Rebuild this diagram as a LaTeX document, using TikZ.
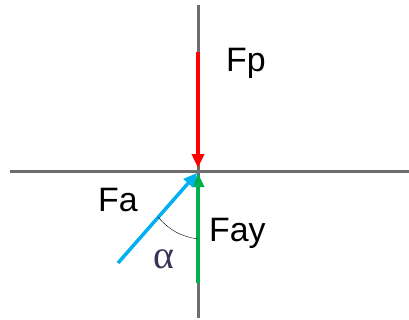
\documentclass[tikz,border=0pt]{standalone}
\usepackage{fontspec}
\setmainfont{Liberation Sans}
\newfontfamily\greekfont{Liberation Serif}
\usetikzlibrary{
    arrows.meta,
    positioning
}
\definecolor{fpred}{RGB}{255,0,0}
\definecolor{faygreen}{RGB}{0,176,80}
\definecolor{fablue}{RGB}{0,176,240}
\definecolor{axisgray}{RGB}{110,110,110}
\definecolor{alphanavy}{RGB}{60,50,90}
\tikzset{
  axis/.style = {
      draw=axisgray,
      line width=3bp
  },
  force/.style = {
      line width=3.5bp,
      -{Triangle[length=14bp,width=12bp]}
  },
  forcelabel/.style = {
      font=\fontsize{34}{34}\selectfont,
      inner sep=0pt,
      anchor=base west
  },
  anglemark/.style = {
      draw,
      thin
  }
}

\begin{document}
\begin{tikzpicture}[x=1bp, y=-1bp]
        \useasboundingbox (0,0) rectangle (409,320);
        % Axes
        \coordinate (O) at (198,172);
        \coordinate (top) at (198,5);
        \coordinate (bottom) at (198,318);
        \coordinate (left) at (10,171);
        \coordinate (right) at (409,171);
        \path[axis] (top) -- (bottom);
        \path[axis] (left) -- (right);
        % Forces
        \coordinate (Fpstart) at (198,52);
        \coordinate (Faystart) at (198,283);
        \coordinate (Fastart) at (118,263);
        \draw[force, fpred, shorten >=4bp] (Fpstart) -- (O);
        \draw[force, faygreen, shorten >=1bp] (Faystart) -- (O);
        \draw[force, fablue, shorten >=1bp] (Fastart) -- (O);
        % Angle
        \coordinate (arcA) at (158,217);
        \coordinate (arcB) at (198,239);
        \draw[anglemark] (arcA) to[bend right=20] (arcB);
        % Labels
        \node[forcelabel] (Fp) at (226,71) {Fp};
        \node[forcelabel] (Fa) at (98,211) {Fa};
        \node[forcelabel] (Fay) at (209,241) {Fay};
        \node[forcelabel, text=alphanavy, font=\greekfont\fontsize{40}{40}\selectfont] (alpha) at (153,268) {α};
    \end{tikzpicture}
\end{document}
